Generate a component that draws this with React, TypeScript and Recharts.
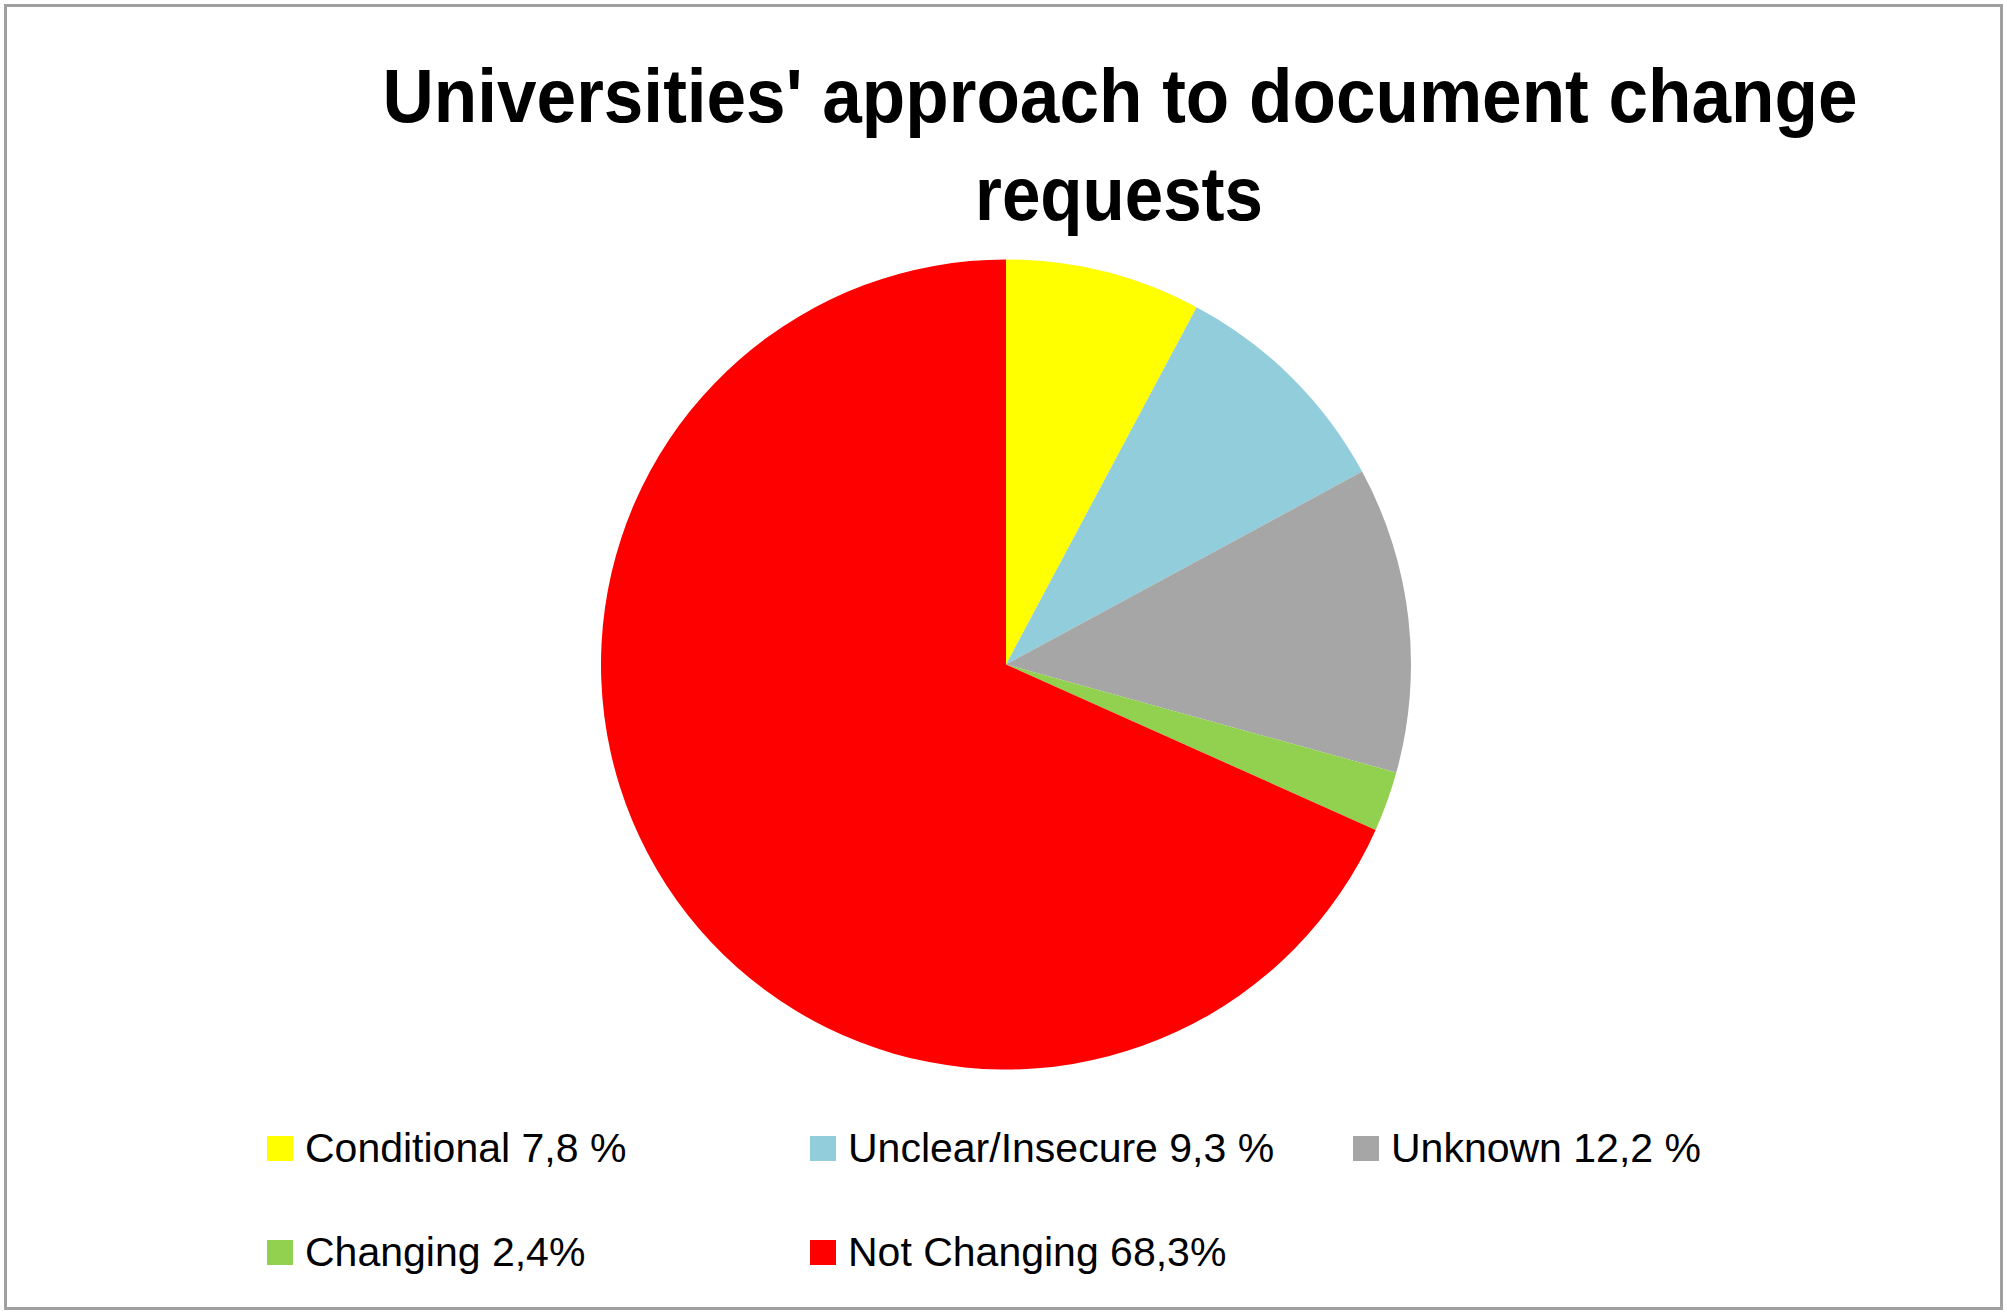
import React from 'react';
import { PieChart, Pie, Cell, Legend } from 'recharts';

const categories = ['Conditional', 'Unclear/Insecure', 'Unknown', 'Changing', 'Not Changing'];
const shares = [7.8, 9.3, 12.2, 2.4, 68.3];
const legendLabels = ['Conditional 7,8 %', 'Unclear/Insecure 9,3 %', 'Unknown 12,2 %', 'Changing 2,4%', 'Not Changing 68,3%'];
const colors = ['#FFFF00', '#92CDDC', '#A6A6A6', '#92D050', '#FF0000'];
const titleLines = ["Universities' approach to document change", 'requests'];

const data = categories.map((c, i) => ({ category: c, label: legendLabels[i], value: shares[i] }));

const W = 2007;
const H = 1315;

// keep the legend in slice order (recharts sorts it by name otherwise)
const LegendBox = (props: any) => {
  const items = [...(props.payload || [])].sort(
    (a: any, b: any) => legendLabels.indexOf(a.value) - legendLabels.indexOf(b.value)
  );
  return (
    <div
      style={{
        display: 'grid',
        gridTemplateColumns: 'repeat(3, 543px)',
        rowGap: 64,
        paddingLeft: 267,
        fontFamily: '"Liberation Sans", Arial, sans-serif',
        fontSize: 41,
        lineHeight: '40px',
        color: '#000',
      }}
    >
      {items.map((entry: any) => (
        <div key={entry.value} style={{ display: 'flex', alignItems: 'center', height: 40, whiteSpace: 'nowrap' }}>
          <span style={{ width: 26, height: 25, background: entry.color, marginRight: 12, flex: 'none' }} />
          <span>{entry.value}</span>
        </div>
      ))}
    </div>
  );
};

const App = () => {
  return (
    <div style={{ position: 'absolute', left: 0, top: 0, width: W, height: H, background: '#fff' }}>
      <PieChart width={W} height={H} margin={{ top: 0, right: 0, bottom: 0, left: 0 }}>
        <Pie
          data={data}
          dataKey="value"
          nameKey="label"
          cx={1006}
          cy={664.5}
          outerRadius={405}
          startAngle={90}
          endAngle={-270}
          stroke="none"
          isAnimationActive={false}
        >
          {data.map((d, i) => (
            <Cell key={d.category} fill={colors[i]} />
          ))}
        </Pie>
        <Legend content={LegendBox} wrapperStyle={{ left: 0, top: 1128, width: W }} />
      </PieChart>
      <svg width={W} height={H} style={{ position: 'absolute', left: 0, top: 0, pointerEvents: 'none' }}>
        <rect x={5.5} y={5.5} width={1996} height={1303} fill="none" stroke="#A0A0A0" strokeWidth={3} />
        <text
          x={1120}
          y={122}
          textAnchor="middle"
          fontFamily='"Liberation Sans", Arial, sans-serif'
          fontWeight="bold"
          fontSize={76}
          textLength={1475}
          lengthAdjust="spacingAndGlyphs"
        >
          {titleLines[0]}
        </text>
        <text
          x={1119}
          y={220}
          textAnchor="middle"
          fontFamily='"Liberation Sans", Arial, sans-serif'
          fontWeight="bold"
          fontSize={76}
          textLength={288}
          lengthAdjust="spacingAndGlyphs"
        >
          {titleLines[1]}
        </text>
      </svg>
    </div>
  );
};

export default App;
